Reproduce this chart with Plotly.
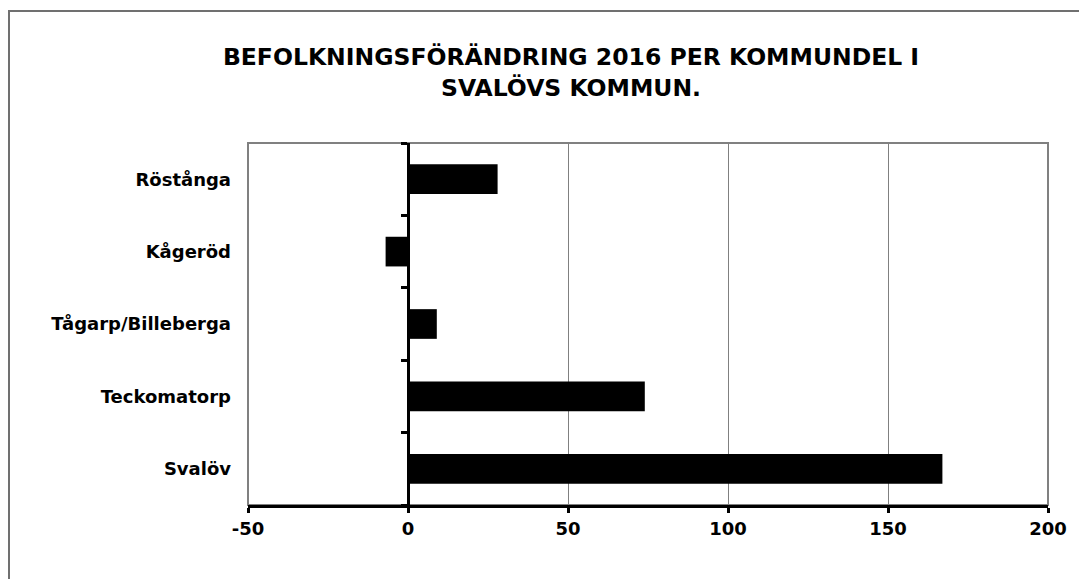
import plotly.graph_objects as go

categories = ["Svalöv", "Teckomatorp", "Tågarp/Billeberga", "Kågeröd", "Röstånga"]
values = [167, 74, 9, -7, 28]
x_ticks = [-50, 0, 50, 100, 150, 200]
title_text = "BEFOLKNINGSFÖRÄNDRING 2016 PER KOMMUNDEL I<br>SVALÖVS KOMMUN."

FONT = "DejaVu Sans, Arial, sans-serif"
# page body has an 8px margin; figure is sized so it ends at the window edge
OFF = 8
W, H = 1087 - OFF, 579 - OFF
L, T = 248 - OFF, 143 - OFF
R = W - (1048 - OFF)
B = H - (505 - OFF)
PW, PH = W - L - R, H - T - B

fig = go.Figure()
fig.add_trace(go.Bar(
    y=categories, x=values, orientation="h",
    marker=dict(color="black", line=dict(width=0)),
    yaxis="y", xaxis="x", showlegend=False,
))
# invisible copy that drives the tick axis placed at x=0
fig.add_trace(go.Bar(
    y=categories, x=[0] * len(categories), orientation="h",
    marker=dict(color="rgba(0,0,0,0)"), yaxis="y2", xaxis="x",
    showlegend=False, hoverinfo="skip",
))

xmin, xmax = x_ticks[0], x_ticks[-1]
zero_frac = (0 - xmin) / (xmax - xmin)

fig.update_layout(
    width=W, height=H,
    margin=dict(l=L, r=R, t=T, b=B),
    paper_bgcolor="white", plot_bgcolor="white",
    bargap=0.59,
    title=dict(text=title_text, x=(571 - OFF) / W, xanchor="center",
               y=1 - (65 - OFF) / H, yanchor="middle",
               font=dict(family=FONT, size=23.5, color="black", weight="bold")),
    font=dict(family=FONT, color="black"),
    xaxis=dict(
        range=[xmin, xmax], tickvals=x_ticks, ticktext=[str(v) for v in x_ticks],
        showgrid=True, gridcolor="#808080", gridwidth=1,
        zeroline=True, zerolinecolor="black", zerolinewidth=3,
        showline=True, linecolor="black", linewidth=3,
        ticks="outside", ticklen=5, tickwidth=3, tickcolor="black",
        tickfont=dict(family=FONT, size=18, color="black", weight="bold"),
        fixedrange=True,
    ),
    yaxis=dict(
        categoryorder="array", categoryarray=categories,
        showgrid=False, zeroline=False, showline=False, ticks="",
        ticklabelstandoff=16,
        tickfont=dict(family=FONT, size=18, color="black", weight="bold"),
    ),
    yaxis2=dict(
        overlaying="y", anchor="free", position=zero_frac, side="left",
        categoryorder="array", categoryarray=categories,
        showgrid=False, zeroline=False, showline=True, linecolor="black", linewidth=3,
        ticks="outside", tickson="boundaries", ticklen=6, tickwidth=3, tickcolor="black",
        showticklabels=False,
    ),
    shapes=[
        dict(type="rect", xref="x domain", yref="y domain", x0=0, x1=1, y0=0, y1=1,
             line=dict(color="#808080", width=2), layer="below"),
        dict(type="rect", xref="paper", yref="paper",
             x0=-(L - 1) / PW, x1=1 + (R + 10) / PW,
             y0=-(B + 10) / PH, y1=1 + (T - 3) / PH,
             line=dict(color="#707070", width=2), layer="below"),
    ],
)

fig.write_html("out.html")
